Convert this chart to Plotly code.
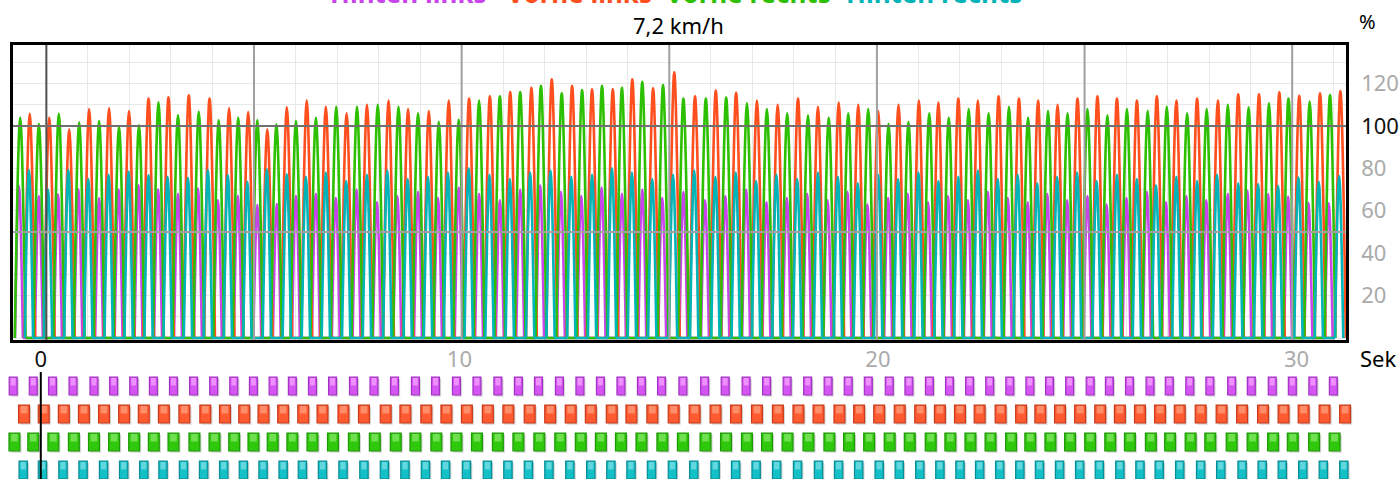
import plotly.graph_objects as go

# Schrittzeitpunkte (Mitte der Stützphase, Sekunden) und Spitzenwerte (%)
hl_t = [-0.66, -0.18, 0.28, 0.77, 1.27, 1.74, 2.22, 2.69, 3.17, 3.65, 4.13, 4.61, 5.08, 5.55,
        6.01, 6.49, 6.97, 7.47, 7.96, 8.45, 8.95, 9.43, 9.93, 10.42, 10.92, 11.41, 11.89,
        12.39, 12.88, 13.37, 13.86, 14.35, 14.83, 15.34, 15.86, 16.35, 16.85, 17.34, 17.83,
        18.32, 18.81, 19.29, 19.77, 20.27, 20.74, 21.23, 21.71, 22.19, 22.67, 23.15, 23.63,
        24.10, 24.58, 25.07, 25.53, 26.01, 26.50, 26.96, 27.45, 27.93, 28.45, 28.92, 29.42,
        29.90, 30.39, 30.88]
vl_t = [-0.40, 0.07, 0.55, 1.03, 1.51, 1.99, 2.46, 2.94, 3.43, 3.93, 4.40, 4.86, 5.32, 5.79,
        6.27, 6.73, 7.23, 7.72, 8.24, 8.71, 9.21, 9.69, 10.18, 10.68, 11.17, 11.68, 12.17,
        12.66, 13.14, 13.64, 14.11, 14.61, 15.12, 15.62, 16.12, 16.61, 17.11, 17.61, 18.10,
        18.58, 19.08, 19.55, 20.03, 20.52, 21.01, 21.48, 21.96, 22.43, 22.93, 23.42, 23.88,
        24.35, 24.83, 25.31, 25.78, 26.26, 26.74, 27.21, 27.71, 28.21, 28.70, 29.20, 29.69,
        30.17, 30.67, 31.16]
vr_t = [-0.63, -0.18, 0.30, 0.79, 1.27, 1.75, 2.23, 2.70, 3.17, 3.67, 4.15, 4.62, 5.08, 5.54,
        6.01, 6.49, 6.98, 7.48, 7.98, 8.48, 8.95, 9.45, 9.93, 10.42, 10.92, 11.41, 11.91,
        12.41, 12.90, 13.38, 13.86, 14.35, 14.85, 15.34, 15.88, 16.37, 16.87, 17.35, 17.84,
        18.34, 18.84, 19.31, 19.79, 20.28, 20.76, 21.26, 21.73, 22.21, 22.69, 23.18, 23.64,
        24.12, 24.59, 25.07, 25.55, 26.02, 26.52, 26.98, 27.47, 27.94, 28.45, 28.95, 29.44,
        29.91, 30.42, 30.91]
hr_t = [-0.42, 0.04, 0.53, 1.01, 1.50, 1.98, 2.46, 2.92, 3.41, 3.89, 4.37, 4.84, 5.31, 5.79,
        6.25, 6.73, 7.22, 7.72, 8.21, 8.70, 9.19, 9.67, 10.17, 10.67, 11.16, 11.65, 12.14,
        12.64, 13.14, 13.62, 14.10, 14.59, 15.09, 15.60, 16.11, 16.60, 17.09, 17.58, 18.08,
        18.58, 19.06, 19.54, 20.03, 20.51, 21.00, 21.48, 21.96, 22.43, 22.91, 23.39, 23.86,
        24.34, 24.82, 25.29, 25.78, 26.26, 26.72, 27.21, 27.71, 28.19, 28.70, 29.18, 29.66,
        30.15, 30.64, 31.13]

hl_h = [71.7, 67.0, 67.8, 70.3, 65.9, 70.1, 72.2, 70.1, 68.0, 70.6, 65.0, 67.1, 62.7, 63.2,
        67.1, 68, 66, 70, 64, 67, 69, 66, 71, 68, 65, 70, 72, 69, 67, 71, 68, 70, 66,
        69, 65, 67, 70, 64, 66, 68, 65, 69, 63, 66, 68, 64, 67, 65, 69, 66, 64, 68, 65, 67,
        63, 66, 69, 64, 67, 65, 68, 69.5, 67.9, 66.7, 63.8, 63.5]
vl_h = [105.7, 104.0, 98.4, 108.0, 108.3, 107.0, 113.0, 113.5, 114.5, 113.0, 108.3, 106.6,
        98.4, 108.8, 112, 109, 106, 110, 112, 108, 107, 112, 113, 114, 116, 118,
        122, 119, 117.3, 117.3, 122, 117.8, 125.3, 114, 116.7, 115.7,
        112, 110, 113, 109, 111, 110, 107, 110, 112, 111, 113, 112, 114, 113, 112, 110,
        113, 114, 113, 112, 114, 112, 113, 112, 115, 115, 115.9, 114.2, 115.4, 116.5]
vr_h = [104, 101, 105.7, 101.7, 102.4, 99.7, 100.5, 111.2, 105.2, 106.7, 102.8, 104, 102.8,
        100.8, 102.4, 104, 109, 109, 110, 109, 106, 102, 103, 112, 114, 116, 119,
        115.4, 117, 118.9, 118, 120.8, 119.3, 113, 113, 113.4, 110.7,
        108, 106, 105, 104, 106, 108, 101, 102, 106, 104, 108, 106, 109, 104, 107, 106,
        108, 105, 108, 107, 109, 106, 108, 110, 108.8, 110.7, 113, 111.5, 114.6]
hr_h = [79.2, 70.0, 79.2, 75.0, 77.0, 78.5, 76.9, 76.0, 75.6, 79.2, 76.9, 73.7, 79.6, 77.2,
        76, 78, 74, 77, 79, 75, 76, 78, 80, 77, 75, 78, 79, 76, 77, 80, 78, 75, 77, 79,
        76, 78, 74, 77, 75, 78, 76, 73, 77, 75, 78, 74, 76, 79, 75, 77, 73, 76, 78, 74,
        77, 75, 72, 76, 74, 77, 73, 72.6, 71.8, 75.8, 73.7, 76.4]

# Dauer der Stützphase je Pfote (s)
hl_d = 0.19
vl_d = 0.26
vr_d = 0.26
hr_d = 0.20

names = ['Hinten links', 'Vorne links', 'Vorne rechts', 'Hinten rechts']
line_colors = ['#c845ec', '#ff4f1e', '#2cc000', '#00b4b8']
box_colors = ['#d455f2', '#ff5a30', '#30c80c', '#14c0c8']
box_light = ['#ee90fd', '#ff8d6a', '#70df50', '#62d8de']
box_border = ['#a232c2', '#c8391a', '#1f9808', '#0a8c94']

paws = [(hl_t, hl_h, hl_d), (vl_t, vl_h, vl_d), (vr_t, vr_h, vr_d), (hr_t, hr_h, hr_d)]
rows = [3, 2, 1, 0]

fig = go.Figure()

for (ts, hs, d), color in zip(paws, line_colors):
    # Schwungphase: Nulllinie zwischen den Stützphasen
    zx, zy = [], []
    for a, b in zip(ts[:-1], ts[1:]):
        zx += [a + d / 2, b - d / 2, None]
        zy += [0, 0, None]
    fig.add_trace(go.Scatter(x=zx, y=zy, mode='lines', hoverinfo='skip',
                             line=dict(color=color, width=2.6)))
    # Stützphase: Druckkurve
    px, py = [], []
    for t, h in zip(ts, hs):
        px += [t - d / 2, t, t + d / 2, None]
        py += [0, h, 0, None]
    fig.add_trace(go.Scatter(x=px, y=py, mode='lines',
                             line=dict(color=color, width=2.6, shape='spline', smoothing=1.1)))

# Schrittbalken unten
for (ts, hs, d), r, c, cl, cb in zip(paws, rows, box_colors, box_light, box_border):
    n = len(ts)
    fig.add_trace(go.Bar(x=[t + 0.04 for t in ts], y=[0.64] * n, base=r - 0.38, width=d,
                         marker=dict(color='#d6d6d6', line=dict(width=0)),
                         xaxis='x2', yaxis='y2', hoverinfo='skip'))
    fig.add_trace(go.Bar(x=ts, y=[0.64] * n, base=r - 0.32, width=d,
                         marker=dict(color=c, line=dict(color=cb, width=1.2)),
                         xaxis='x2', yaxis='y2', hoverinfo='skip'))
    fig.add_trace(go.Bar(x=ts, y=[0.27] * n, base=r + 0.02, width=d * 0.62,
                         marker=dict(color=cl, line=dict(width=0)),
                         xaxis='x2', yaxis='y2', hoverinfo='skip'))

grid = '#e8e8e8'
fig.update_layout(
    width=1399, height=479,
    margin=dict(l=4, r=28, t=45, b=0),
    plot_bgcolor='white', paper_bgcolor='white',
    showlegend=False, barmode='overlay',
    font=dict(family='Noto Sans', size=20, color='black'),
    xaxis=dict(domain=[0.00658, 0.98464], range=[-0.804, 31.297], anchor='y',
               showticklabels=False, ticks='', dtick=1, tick0=0,
               showgrid=True, gridcolor=grid, gridwidth=1, zeroline=False,
               showline=True, linecolor='black', linewidth=2.5, mirror=True),
    yaxis=dict(domain=[0.3203, 1], range=[-0.94, 138.2], anchor='x', side='right',
               tickvals=[20, 40, 60, 80, 100, 120],
               ticktext=['20', '40', '60', '80', '<span style="color:#111">100</span>', '120'],
               tickfont=dict(size=22, color='#aaaaaa'), ticks='', ticklabelstandoff=8,
               showgrid=True, gridcolor=grid,
               minor=dict(dtick=10, tick0=0, showgrid=True, gridcolor=grid),
               zeroline=False, showline=True, linecolor='black', linewidth=2.5, mirror=True),
    xaxis2=dict(domain=[0, 1], range=[-0.879, 31.684], anchor='y2', side='top',
                tickvals=[0, 10, 20, 30],
                ticktext=['<span style="color:#111">0</span>', '10', '20', '30'],
                tickfont=dict(size=22, color='#aaaaaa'), ticks='',
                showgrid=False, zeroline=False, showline=False),
    yaxis2=dict(domain=[0, 0.2465], range=[-0.32, 3.5], anchor='x2', visible=False),
)

# kräftige Gitterlinien über den Kurven
shapes = []
for s in range(0, 31, 5):
    shapes.append(dict(type='line', xref='x', yref='y domain', x0=s, x1=s, y0=0, y1=1,
                       layer='above', line=dict(color='#505050' if s == 0 else '#a0a0a0', width=2)))
for v, col in [(50, '#a0a0a0'), (100, '#707070')]:
    shapes.append(dict(type='line', xref='x domain', yref='y', x0=0, x1=1, y0=v, y1=v,
                       layer='above', line=dict(color=col, width=2)))
shapes.append(dict(type='line', xref='x2', yref='y2 domain', x0=0, x1=0, y0=0, y1=1,
                   layer='above', line=dict(color='black', width=2)))
fig.update_layout(shapes=shapes)

# Legende oben (nur unterer Rand der Schrift sichtbar)
label_x = [0.297, 0.422, 0.546, 0.682]
for name, color, lx in zip(names, line_colors, label_x):
    fig.add_annotation(text=f'<b>{name}</b>', x=lx, y=1.0737, xref='paper', yref='paper',
                       xanchor='center', yanchor='bottom', showarrow=False,
                       font=dict(size=26, color=color))
fig.add_annotation(text='7,2 km/h', x=0.4945, y=1.046, xref='paper', yref='paper',
                   xanchor='center', yanchor='middle', showarrow=False, font=dict(size=22))
fig.add_annotation(text='%', x=1.0, y=1.053, xref='paper', yref='paper',
                   xanchor='center', yanchor='middle', showarrow=False, font=dict(size=20))
fig.add_annotation(text='Sek', x=0.9935, y=0.2788, xref='paper', yref='paper',
                   xanchor='left', yanchor='middle', showarrow=False, font=dict(size=22))

# Seitenrand des Browsers entfernen, damit das Bild bei (0, 0) beginnt
fig.write_html("out.html", config={'displayModeBar': False},
               post_script="document.body.style.margin='0';")
